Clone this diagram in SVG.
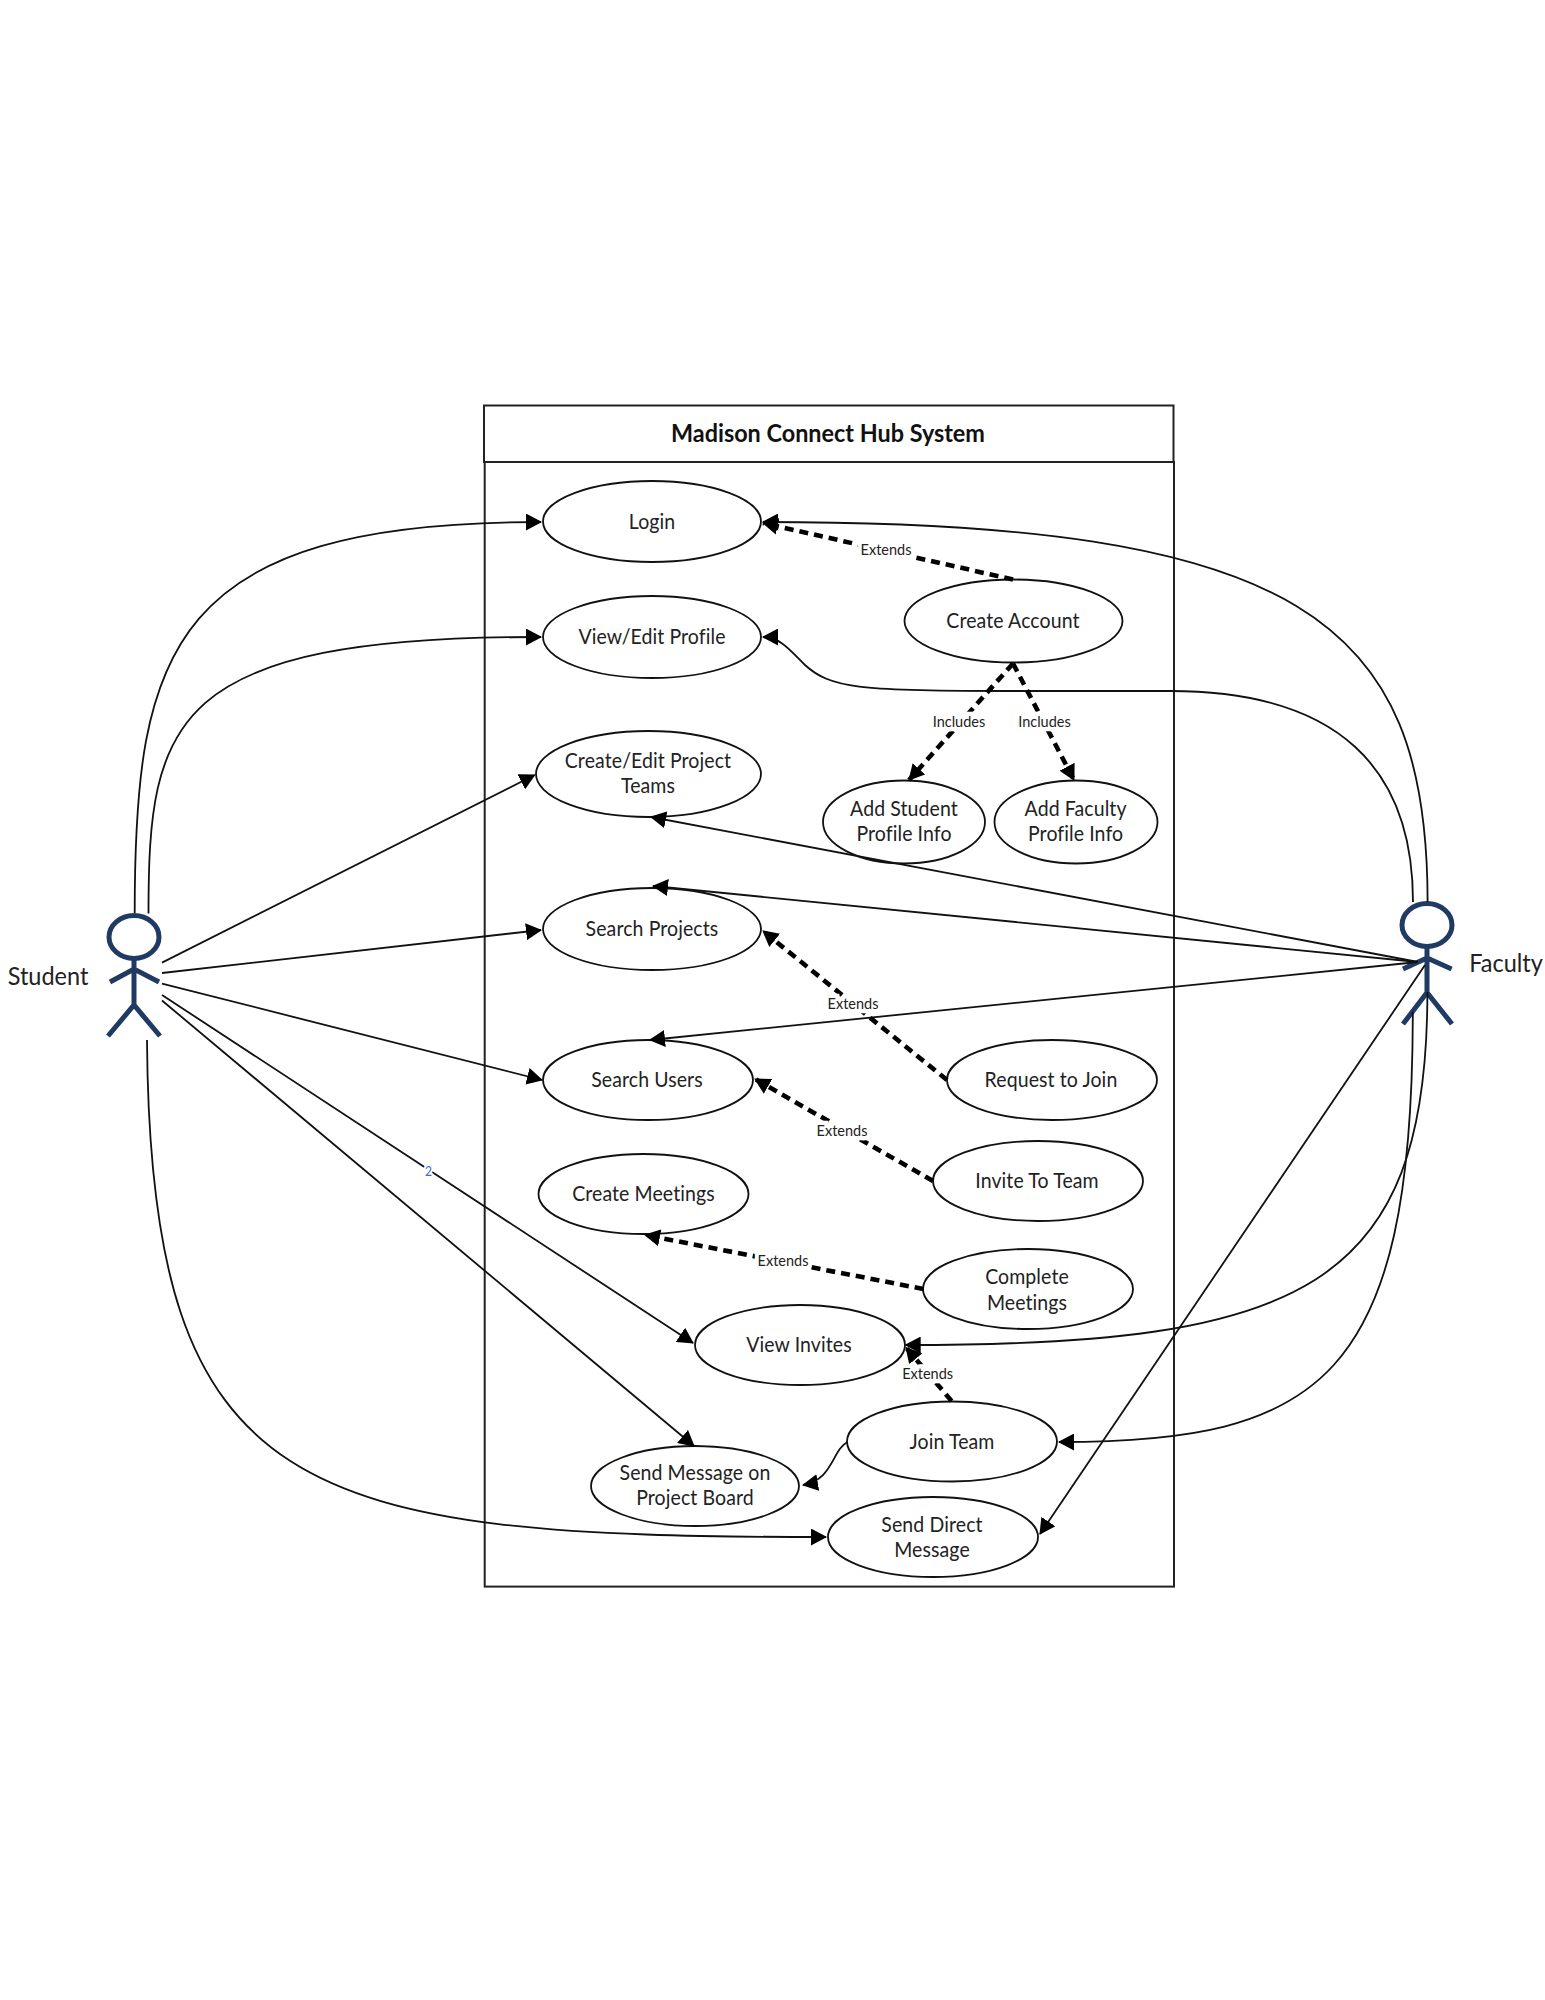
<svg xmlns="http://www.w3.org/2000/svg" width="1545" height="2000" viewBox="0 0 1545 2000">
<style>
.bg{fill:#fff}
.frame{fill:none;stroke:#222;stroke-width:2}
.uc ellipse{fill:#fff;stroke:#111;stroke-width:1.8}
text{font-family:"Lato","Carlito","Liberation Sans",sans-serif;fill:#222;text-anchor:middle;dominant-baseline:central;transform-box:fill-box;transform-origin:center;transform:scaleY(1.08)}
.uc text{font-size:19.5px;letter-spacing:.1px}
.title{font-size:23.4px;font-weight:700;fill:#111}
.actor-name{font-size:23.5px}
.lbl{font-size:14.5px;paint-order:stroke;stroke:#fff;stroke-width:8px}
.mark{font-size:12px;fill:#3f66d8;paint-order:stroke;stroke:#fff;stroke-width:4px}
.actor path,.actor ellipse{fill:none;stroke:#1f3a63;stroke-width:5}
.c{fill:none;stroke:#111;stroke-width:1.8;marker-end:url(#tip)}
.d{fill:none;stroke:#000;stroke-width:4.6;stroke-dasharray:9 6;marker-end:url(#tip)}
</style>
<defs>
<marker id="tip" markerUnits="userSpaceOnUse" markerWidth="16" markerHeight="17" refX="15" refY="8.5" orient="auto"><path d="M0,0 L16,8.5 L0,17 Z" fill="#000"/></marker>
</defs>
<rect class="bg" width="1545" height="2000"/>
<g id="system-boundary">
<rect class="frame" x="484" y="405.5" width="689.5" height="56.5"/>
<rect class="frame" x="484.7" y="462" width="689.3" height="1124.6"/>
<text class="title" x="828" y="432">Madison Connect Hub System</text>
</g>
<g id="student" class="actor">
<ellipse cx="134" cy="937" rx="25" ry="21.5"/>
<path d="M134,959 V1005 M110,982 L134,969 L159,982 M108,1036 L134,1005 L160,1036"/>
<text class="actor-name" x="48" y="975">Student</text>
</g>
<g id="faculty" class="actor">
<ellipse cx="1427" cy="925" rx="25" ry="21.5"/>
<path d="M1427,947 V992.5 M1403,969 L1427,958 L1451.6,969 M1403,1024 L1427,992.5 L1452,1024"/>
<text class="actor-name" x="1506" y="962.5">Faculty</text>
</g>
<g id="login" class="uc"><ellipse cx="652" cy="521.5" rx="109" ry="40.5"/><text x="652" y="520.7">Login</text></g>
<g id="view-edit-profile" class="uc"><ellipse cx="652" cy="637" rx="109" ry="41"/><text x="652" y="635.7">View/Edit Profile</text></g>
<g id="create-edit-project-teams" class="uc"><ellipse cx="648.5" cy="774" rx="112.5" ry="43"/><text x="648" y="759.7">Create/Edit Project</text><text x="648" y="785">Teams</text></g>
<g id="search-projects" class="uc"><ellipse cx="652" cy="929" rx="109" ry="41"/><text x="652" y="927.7">Search Projects</text></g>
<g id="search-users" class="uc"><ellipse cx="648" cy="1080" rx="105" ry="40"/><text x="647" y="1078.7">Search Users</text></g>
<g id="create-meetings" class="uc"><ellipse cx="643.5" cy="1194" rx="105" ry="40"/><text x="643.5" y="1193">Create Meetings</text></g>
<g id="view-invites" class="uc"><ellipse cx="800" cy="1345" rx="105" ry="40"/><text x="799" y="1343.7">View Invites</text></g>
<g id="send-message" class="uc"><ellipse cx="695" cy="1486" rx="104" ry="40"/><text x="695" y="1471.7">Send Message on</text><text x="695" y="1497">Project Board</text></g>
<g id="send-direct-message" class="uc"><ellipse cx="933" cy="1537" rx="105" ry="40"/><text x="932" y="1523.7">Send Direct</text><text x="932" y="1549">Message</text></g>
<g id="join-team" class="uc"><ellipse cx="952" cy="1441.5" rx="105" ry="40"/><text x="952" y="1440.7">Join Team</text></g>
<g id="complete-meetings" class="uc"><ellipse cx="1028" cy="1289" rx="105" ry="40"/><text x="1027" y="1276">Complete</text><text x="1027" y="1301.7">Meetings</text></g>
<g id="invite-to-team" class="uc"><ellipse cx="1038" cy="1181" rx="105" ry="40"/><text x="1037" y="1179.7">Invite To Team</text></g>
<g id="request-to-join" class="uc"><ellipse cx="1052" cy="1080" rx="105" ry="40"/><text x="1051" y="1078.7">Request to Join</text></g>
<g id="create-account" class="uc"><ellipse cx="1013.5" cy="621" rx="109" ry="41.5"/><text x="1013" y="619.7">Create Account</text></g>
<g id="add-student-profile-info" class="uc"><ellipse cx="904" cy="822" rx="81" ry="41.5"/><text x="904" y="807.7">Add Student</text><text x="904" y="833.2">Profile Info</text></g>
<g id="add-faculty-profile-info" class="uc"><ellipse cx="1076" cy="822" rx="81.5" ry="41.5"/><text x="1075.6" y="807.7">Add Faculty</text><text x="1075.6" y="833.2">Profile Info</text></g>
<g id="connectors">
<path class="c" d="M134.7,913 C134.7,650 170,522 541,522"/>
<path class="c" d="M148.5,913.5 C148.5,720 170,637 541,637"/>
<path class="c" d="M162,962.6 L534.7,775"/>
<path class="c" d="M162,973 L541,930"/>
<path class="c" d="M162,983.6 L542,1080"/>
<path class="c" d="M162,995 L693,1343"/>
<path class="c" d="M162,1000.5 L694,1446"/>
<path class="c" d="M147,1040 C150,1500 300,1537 826,1537"/>
<path class="c" d="M1427.6,902 C1427.6,620 1300,522 763,522"/>
<path class="c" d="M1413,902 C1413,770 1340,691 1170,691 L1000,691 C860,691 830,688 805,665 C790,650 780,637 763,637"/>
<path class="c" d="M1418,962 L651,817"/>
<path class="c" d="M1418,962 L653,886"/>
<path class="c" d="M1418,962 L650,1040"/>
<path class="c" d="M1427.4,992 C1427.4,1290 1300,1345 905.7,1345"/>
<path class="c" d="M1412.8,1012 C1412.8,1380 1320,1442 1059,1442"/>
<path class="c" d="M1425,965 L1040,1534"/>
<path class="c" d="M847.5,1442 C832,1450 833,1480 803,1485"/>
<path class="d" d="M1013,579.5 L763,523"/>
<path class="d" d="M1013,663.5 L909,780"/>
<path class="d" d="M1013,663.5 L1074,780"/>
<path class="d" d="M947,1080 L763,931"/>
<path class="d" d="M933,1181 L755,1079"/>
<path class="d" d="M923.5,1289 L645,1235"/>
<path class="d" d="M951.6,1401 L906,1347.5"/>
<text class="lbl" x="886" y="549">Extends</text>
<text class="lbl" x="959" y="720.5">Includes</text>
<text class="lbl" x="1044.5" y="720.5">Includes</text>
<text class="lbl" x="853" y="1002.6">Extends</text>
<text class="lbl" x="842" y="1130">Extends</text>
<text class="lbl" x="783" y="1260">Extends</text>
<text class="lbl" x="927.6" y="1372.5">Extends</text>
<text class="mark" x="428.6" y="1171">2</text>
</g>
</svg>
